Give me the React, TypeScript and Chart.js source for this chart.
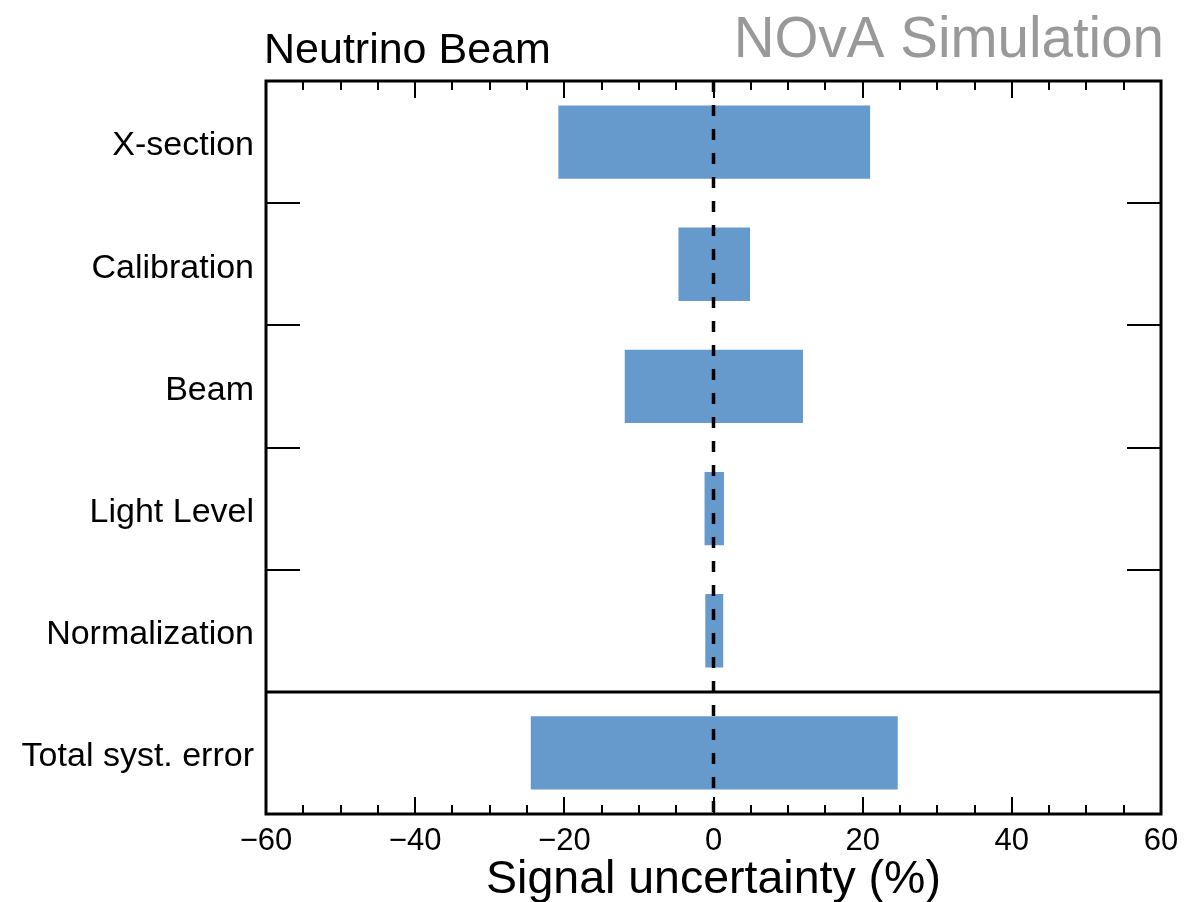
import React, { useEffect, useRef } from "react";
import { Chart, registerables } from "chart.js";

Chart.register(...registerables);

const categories = [
  "X-section",
  "Calibration",
  "Beam",
  "Light Level",
  "Normalization",
  "Total syst. error",
];
const lowValues = [-20.8, -4.7, -11.9, -1.2, -1.1, -24.5];
const highValues = [21.0, 4.9, 12.0, 1.4, 1.3, 24.7];
const xMin = -60;
const xMax = 60;
const xMajorStep = 20;
const xMinorStep = 5;
const titleLeft = "Neutrino Beam";
const titleRight = "NOvA Simulation";
const xTitle = "Signal uncertainty (%)";

const FONT = "'Liberation Sans', Arial, Helvetica, sans-serif";
const BAR_COLOR = "rgb(102,153,204)";

const framePlugin = {
  id: "novaFrame",
  afterDatasetsDraw(chart: any) {
    const { ctx, chartArea, scales } = chart;
    const { left, right, top, bottom } = chartArea;
    const x = scales.x;
    const y = scales.y;
    ctx.save();
    // dashed zero line
    const x0 = x.getPixelForValue(0);
    ctx.strokeStyle = "#000";
    ctx.lineWidth = 3.5;
    ctx.setLineDash([11, 13]);
    ctx.beginPath();
    ctx.moveTo(x0, top);
    ctx.lineTo(x0, bottom);
    ctx.stroke();
    ctx.setLineDash([]);

    // x ticks (top and bottom, inward)
    ctx.lineWidth = 2;
    const nSteps = Math.round((xMax - xMin) / xMinorStep);
    for (let i = 1; i < nSteps; i++) {
      const v = xMin + i * xMinorStep;
      const px = Math.round(x.getPixelForValue(v));
      const len = v % xMajorStep === 0 ? 17 : 9;
      ctx.beginPath();
      ctx.moveTo(px, bottom);
      ctx.lineTo(px, bottom - len);
      ctx.moveTo(px, top);
      ctx.lineTo(px, top + len);
      ctx.stroke();
    }

    // category boundaries
    for (let i = 0; i < categories.length - 1; i++) {
      const py = Math.round((y.getPixelForValue(i) + y.getPixelForValue(i + 1)) / 2);
      if (i === categories.length - 2) {
        ctx.lineWidth = 3;
        ctx.beginPath();
        ctx.moveTo(left, py);
        ctx.lineTo(right, py);
        ctx.stroke();
      } else {
        ctx.lineWidth = 2;
        ctx.beginPath();
        ctx.moveTo(left, py);
        ctx.lineTo(left + 34, py);
        ctx.moveTo(right, py);
        ctx.lineTo(right - 34, py);
        ctx.stroke();
      }
    }

    // frame
    ctx.lineWidth = 3;
    ctx.strokeRect(left, top, right - left, bottom - top);
    ctx.restore();
  },
  afterDraw(chart: any) {
    const { ctx, chartArea } = chart;
    ctx.save();
    ctx.textBaseline = "alphabetic";
    ctx.fillStyle = "#000";
    ctx.font = `43px ${FONT}`;
    ctx.textAlign = "left";
    ctx.fillText(titleLeft, 264, 63);

    ctx.fillStyle = "#999999";
    ctx.font = `56.5px ${FONT}`;
    ctx.textAlign = "right";
    ctx.fillText(titleRight, 1164, 57);

    ctx.fillStyle = "#000";
    ctx.font = `46.5px ${FONT}`;
    ctx.textAlign = "center";
    ctx.fillText(xTitle, (chartArea.left + chartArea.right) / 2, 893);
    ctx.restore();
  },
};

export default function App() {
  const canvasRef = useRef<HTMLCanvasElement | null>(null);

  useEffect(() => {
    const canvas = canvasRef.current;
    if (!canvas) return;
    const chart = new Chart(canvas, {
      type: "bar",
      data: {
        labels: categories,
        datasets: [
          {
            label: "Signal uncertainty",
            data: categories.map((_, i) => [lowValues[i], highValues[i]]) as any,
            backgroundColor: BAR_COLOR,
            borderWidth: 0,
            barPercentage: 0.6,
            categoryPercentage: 1.0,
          },
        ],
      },
      options: {
        indexAxis: "y",
        animation: false,
        responsive: false,
        maintainAspectRatio: false,
        layout: { padding: { top: 81, right: 23, left: 0, bottom: 0 } },
        plugins: {
          legend: { display: false },
          tooltip: { enabled: false },
          title: { display: false },
        },
        scales: {
          x: {
            type: "linear",
            min: xMin,
            max: xMax,
            grid: { display: false, drawTicks: false },
            border: { display: false },
            ticks: {
              stepSize: xMajorStep,
              padding: 9,
              color: "#000",
              font: { family: FONT, size: 31 },
              maxRotation: 0,
              autoSkip: false,
              callback: (v: any) => {
                const n = Number(v);
                return n < 0 ? `\u2212${Math.abs(n)}` : `${n}`;
              },
            },
            afterFit: (scale: any) => {
              scale.height = 88;
              scale.paddingLeft = 0;
              scale.paddingRight = 0;
            },
          },
          y: {
            type: "category",
            grid: { display: false, drawTicks: false },
            border: { display: false },
            ticks: {
              padding: 12,
              labelOffset: 4,
              color: "#000",
              font: { family: FONT, size: 34 },
              autoSkip: false,
            },
            afterFit: (scale: any) => {
              scale.width = 266;
              scale.paddingTop = 0;
              scale.paddingBottom = 0;
            },
          },
        },
      },
      plugins: [framePlugin],
    });
    return () => chart.destroy();
  }, []);

  return (
    <div style={{ position: "fixed", left: 0, top: 0, width: 1184, height: 902, background: "#fff" }}>
      <canvas ref={canvasRef} width={1184} height={902} style={{ display: "block" }} />
    </div>
  );
}
